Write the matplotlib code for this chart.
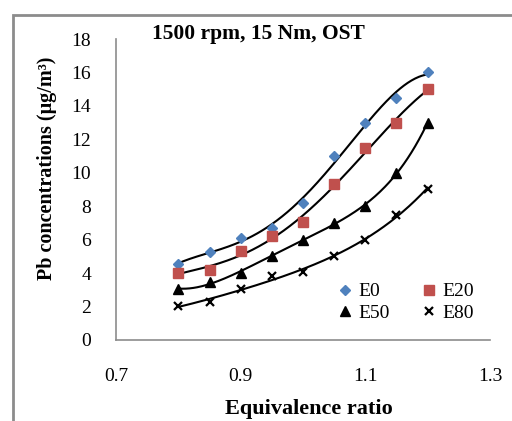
import numpy as np
import matplotlib
matplotlib.use("Agg")
import matplotlib.pyplot as plt
from matplotlib.patches import Rectangle

x = [0.80, 0.85, 0.90, 0.95, 1.00, 1.05, 1.10, 1.15, 1.20]
e0 = [4.55, 5.25, 6.1, 6.7, 8.2, 11.0, 13.0, 14.5, 16.0]
e20 = [4.0, 4.2, 5.3, 6.2, 7.05, 9.3, 11.5, 13.0, 15.0]
e50 = [3.05, 3.45, 4.0, 5.05, 6.0, 7.0, 8.0, 10.0, 13.0]
e80 = [2.05, 2.25, 3.05, 3.85, 4.05, 5.0, 6.0, 7.5, 9.05]
labels = ["E0", "E20", "E50", "E80"]
yticks = [0, 2, 4, 6, 8, 10, 12, 14, 16, 18]
xticks = [0.7, 0.9, 1.1, 1.3]

plt.rcParams['font.family'] = ['Liberation Serif', 'DejaVu Serif']

fig = plt.figure(figsize=(5.12, 4.21), dpi=100)
fig.patches.append(Rectangle((13/512, -0.1), 1.2, 1 - 15/421 + 0.1,
                             transform=fig.transFigure, fill=False,
                             edgecolor='#8c8c8c', lw=2.0, zorder=0))
ax = fig.add_axes([116/512, 1 - 340/421, (490 - 116)/512, (340 - 39)/421])

series = [e0, e20, e50, e80]
styles = [dict(marker='D', color='#4F81BD', ms=5.5),
          dict(marker='s', color='#C0504D', ms=7),
          dict(marker='^', color='black', ms=6.5),
          dict(marker='x', color='black', ms=6, mew=1.6)]
xa = np.array(x)
xs = np.linspace(xa.min(), xa.max(), 200)
handles = []
for ys, st, lab in zip(series, styles, labels):
    coef = np.polyfit(xa, np.array(ys), 4)
    ax.plot(xs, np.polyval(coef, xs), color='black', lw=1.5, zorder=2)
    h, = ax.plot(x, ys, linestyle='none', label=lab, zorder=3, **st)
    handles.append(h)

ax.set_xlim(0.7, 1.3)
ax.set_ylim(0, 18)
ax.set_xticks(xticks)
ax.set_xticklabels([str(t) for t in xticks])
ax.set_yticks(yticks)
ax.tick_params(axis='both', length=0, labelsize=14)
ax.tick_params(axis='y', pad=18)
ax.tick_params(axis='x', pad=20)
for s in ['top', 'right']:
    ax.spines[s].set_visible(False)
for s in ['left', 'bottom']:
    ax.spines[s].set_color('#8c8c8c')
    ax.spines[s].set_linewidth(1.2)

fig.text(47/512, 1 - 168/421, 'Pb concentrations (μg/m³)', fontsize=14.5, fontweight='bold',
         rotation=90, ha='center', va='center')
fig.text(309/512, 1 - 409/421, 'Equivalence ratio', fontsize=16, fontweight='bold',
         ha='center', va='center')
fig.text(152/512, 1 - 34/421, '1500 rpm, 15 Nm, OST', fontsize=15.5, fontweight='bold',
         ha='left', va='center')

order = [0, 2, 1, 3]
ax.legend([handles[i] for i in order], [labels[i] for i in order],
          ncol=2, loc='lower right', bbox_to_anchor=(0.993, 0.015), frameon=False,
          fontsize=14, handlelength=0.8, handletextpad=0.3, columnspacing=1.6,
          labelspacing=0.2, borderpad=0.2)

fig.savefig('out.png', dpi=100)
